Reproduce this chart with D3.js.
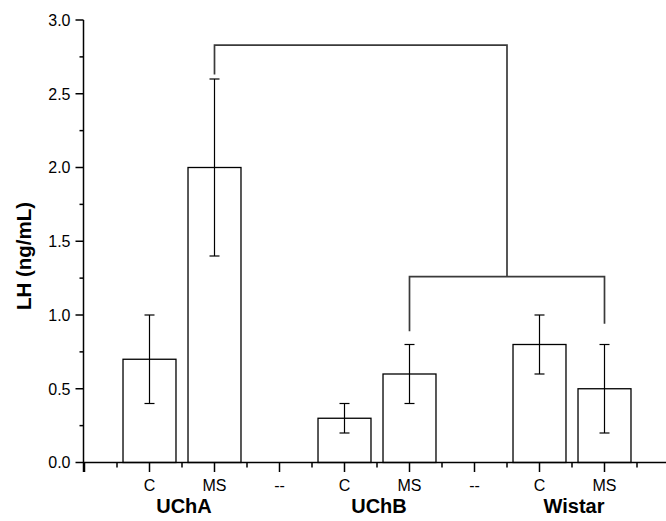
<!DOCTYPE html>
<html>
<head>
<meta charset="utf-8">
<script src="https://d3js.org/d3.v7.min.js"></script>
<style>
  html, body { margin: 0; padding: 0; background: #fff; }
  svg { display: block; font-family: "Liberation Sans", Arial, sans-serif; }
</style>
</head>
<body>
<svg id="chart" width="666" height="521"></svg>
<script>
// ---- data ----
const tickLabels = ["", "C", "MS", "--", "C", "MS", "--", "C", "MS", ""];
const groups = ["UChA", "UChB", "Wistar"];
const groupPos = [1.5, 4.5, 7.5];
const barPos = [1, 2, 4, 5, 7, 8];
const barValues = [0.7, 2.0, 0.3, 0.6, 0.8, 0.5];
const barErrors = [0.3, 0.6, 0.1, 0.2, 0.2, 0.3];
const yTicks = [0, 0.5, 1.0, 1.5, 2.0, 2.5, 3.0];
// significance brackets: [x1, x2, yTop, leftLegEnd, rightLegEnd]
const bracketLow = [5, 8, 1.26, 0.89, 0.94];
const bracketHigh = [2, 6.5, 2.83, 2.63, 1.26];

// ---- layout ----
const svg = d3.select("#chart");
const x = d3.scaleLinear().domain([0, 9]).range([84.5, 669.5]);
const y = d3.scaleLinear().domain([0, 3]).range([462.5, 20]);
const barW = x(0.815) - x(0);

const g = svg.append("g");

// bars
g.selectAll("rect.bar").data(barPos).enter().append("rect")
  .attr("x", (d) => x(d) - barW / 2)
  .attr("y", (d, i) => y(barValues[i]))
  .attr("width", barW)
  .attr("height", (d, i) => y(0) - y(barValues[i]))
  .attr("fill", "#fff").attr("stroke", "#000").attr("stroke-width", 1.3);

// error bars
const eb = g.selectAll("g.err").data(barPos).enter().append("g")
  .attr("stroke", "#000").attr("stroke-width", 1.2);
eb.append("line")
  .attr("x1", (d) => x(d)).attr("x2", (d) => x(d))
  .attr("y1", (d, i) => y(barValues[i] - barErrors[i]))
  .attr("y2", (d, i) => y(barValues[i] + barErrors[i]));
eb.append("line")
  .attr("x1", (d) => x(d) - 5).attr("x2", (d) => x(d) + 5)
  .attr("y1", (d, i) => y(barValues[i] + barErrors[i]))
  .attr("y2", (d, i) => y(barValues[i] + barErrors[i]));
eb.append("line")
  .attr("x1", (d) => x(d) - 5).attr("x2", (d) => x(d) + 5)
  .attr("y1", (d, i) => y(barValues[i] - barErrors[i]))
  .attr("y2", (d, i) => y(barValues[i] - barErrors[i]));

// brackets
[bracketLow, bracketHigh].forEach((b) => {
  const [x1, x2, yt, l, r] = b;
  g.append("path")
    .attr("d", `M${x(x1)},${y(l)}V${y(yt)}H${x(x2)}V${y(r)}`)
    .attr("fill", "none").attr("stroke", "#3a3a3a").attr("stroke-width", 1.7);
});

// y axis
const yAxisG = svg.append("g").attr("stroke", "#000").attr("stroke-width", 1.5);
yAxisG.append("line").attr("x1", x(0) - 1).attr("x2", x(0) - 1)
  .attr("y1", y(3)).attr("y2", y(0) + 9.5);
yTicks.forEach((t) => {
  yAxisG.append("line").attr("x1", x(0) - 9).attr("x2", x(0) - 1)
    .attr("y1", y(t)).attr("y2", y(t));
});
d3.range(0.25, 3, 0.5).forEach((t) => {
  yAxisG.append("line").attr("x1", x(0) - 5).attr("x2", x(0) - 1)
    .attr("y1", y(t)).attr("y2", y(t));
});
svg.selectAll("text.ytick").data(yTicks).enter().append("text")
  .attr("x", x(0) - 14).attr("y", (d) => y(d)).attr("dy", "0.36em")
  .attr("text-anchor", "end").attr("font-size", 16).attr("fill", "#000")
  .text((d) => d3.format(".1f")(d));

// x axis
const xAxisG = svg.append("g").attr("stroke", "#000").attr("stroke-width", 1.5);
xAxisG.append("line").attr("x1", x(0) - 1).attr("x2", x(9))
  .attr("y1", y(0)).attr("y2", y(0));
d3.range(0, 10).forEach((t) => {
  xAxisG.append("line").attr("x1", x(t)).attr("x2", x(t))
    .attr("y1", y(0)).attr("y2", y(0) + 9.5);
});
d3.range(0.5, 9, 1).forEach((t) => {
  xAxisG.append("line").attr("x1", x(t)).attr("x2", x(t))
    .attr("y1", y(0)).attr("y2", y(0) + 5);
});
svg.selectAll("text.xtick").data(tickLabels).enter().append("text")
  .attr("x", (d, i) => x(i)).attr("y", 491)
  .attr("text-anchor", "middle").attr("font-size", 16).attr("fill", "#000")
  .text((d) => d);
svg.selectAll("text.group").data(groups).enter().append("text")
  .attr("x", (d, i) => x(groupPos[i]) + 2).attr("y", 513)
  .attr("text-anchor", "middle").attr("font-size", 20).attr("font-weight", "bold")
  .attr("fill", "#000").text((d) => d);

// y axis title
svg.append("text")
  .attr("transform", `translate(31,256) rotate(-90)`)
  .attr("text-anchor", "middle").attr("font-size", 20.5).attr("font-weight", "bold")
  .attr("fill", "#000").text("LH (ng/mL)");
</script>
</body>
</html>
